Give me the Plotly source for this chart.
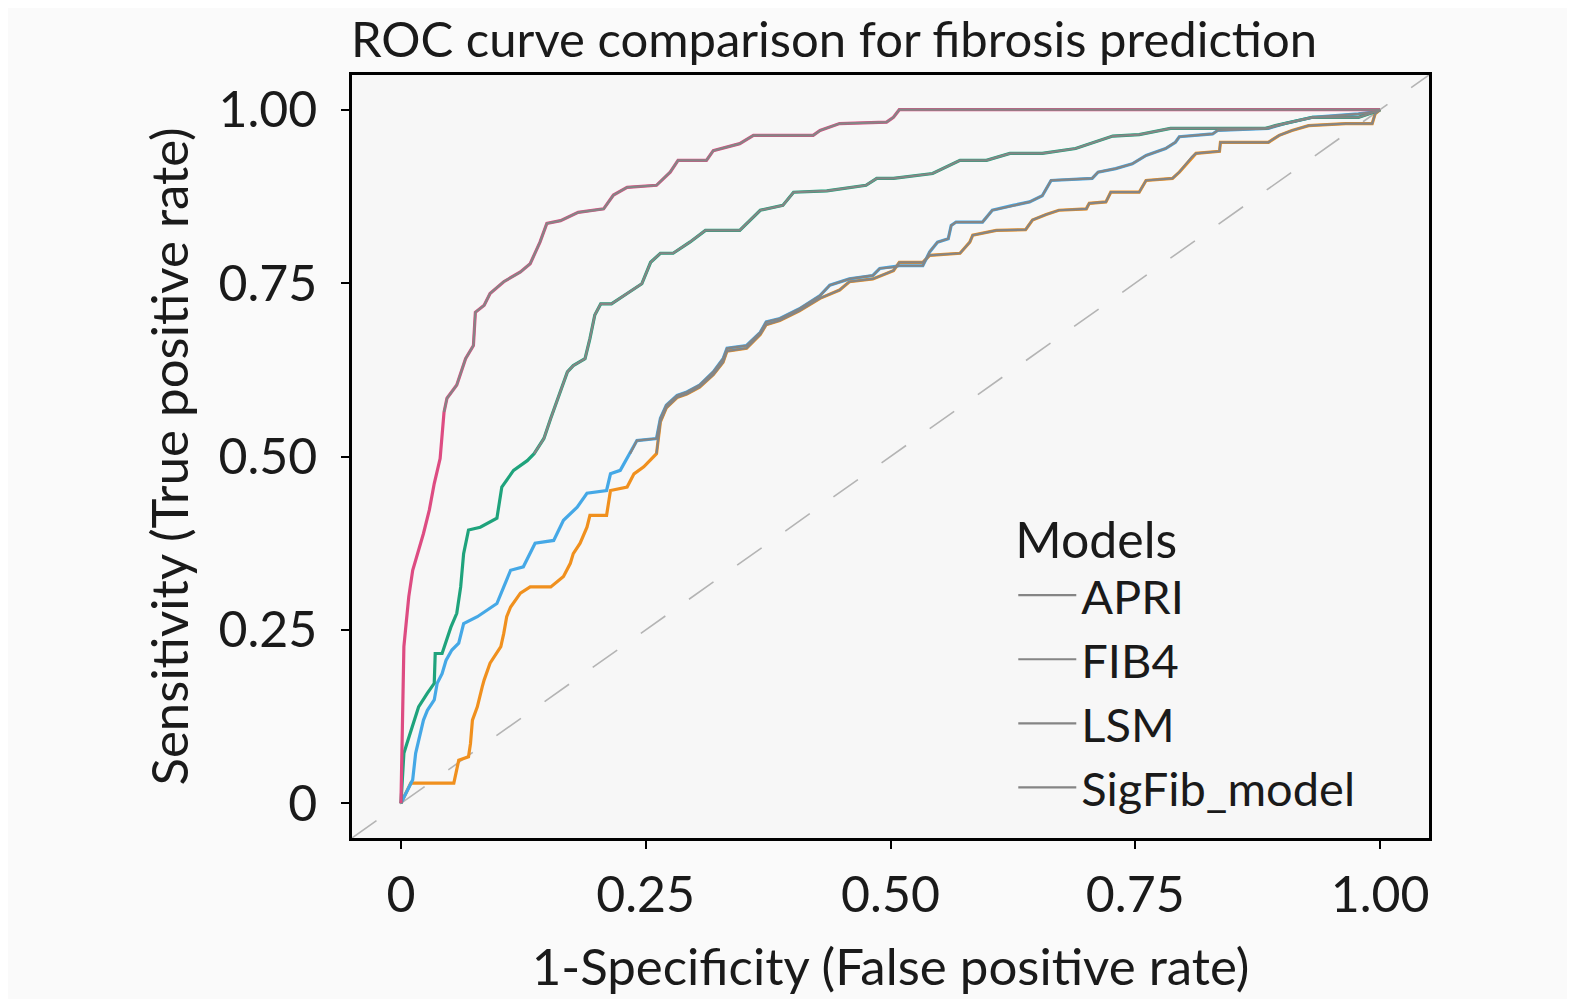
import plotly.graph_objects as go

# ROC points (false positive rate, true positive rate)
apri_fpr = [0, 0.010, 0.054, 0.059, 0.069, 0.071, 0.073, 0.078, 0.083, 0.085,
            0.091, 0.102, 0.105, 0.108, 0.112, 0.122, 0.132, 0.153, 0.166, 0.173,
            0.176, 0.183, 0.190, 0.193, 0.210, 0.214, 0.231, 0.238, 0.248, 0.261,
            0.265, 0.271, 0.282, 0.292, 0.305, 0.319, 0.329, 0.333, 0.353, 0.367,
            0.373, 0.387, 0.407, 0.428, 0.448, 0.458, 0.482, 0.503, 0.509, 0.533,
            0.540, 0.571, 0.581, 0.584, 0.608, 0.638, 0.645, 0.659, 0.672, 0.700,
            0.703, 0.720, 0.725, 0.754, 0.761, 0.788, 0.795, 0.808, 0.812, 0.836,
            0.837, 0.886, 0.897, 0.910, 0.927, 0.965, 0.992, 0.995, 1.0]
apri_tpr = [0, 0.029, 0.029, 0.062, 0.067, 0.086, 0.120, 0.139, 0.168, 0.178,
            0.202, 0.226, 0.245, 0.269, 0.283, 0.303, 0.312, 0.312, 0.327, 0.346,
            0.360, 0.375, 0.398, 0.415, 0.415, 0.451, 0.456, 0.475, 0.485, 0.504,
            0.550, 0.570, 0.585, 0.590, 0.600, 0.618, 0.636, 0.652, 0.656, 0.676,
            0.690, 0.696, 0.710, 0.728, 0.740, 0.752, 0.756, 0.768, 0.780, 0.780,
            0.790, 0.793, 0.809, 0.819, 0.826, 0.827, 0.841, 0.849, 0.855, 0.857,
            0.865, 0.867, 0.881, 0.881, 0.898, 0.901, 0.910, 0.932, 0.937, 0.940,
            0.953, 0.953, 0.963, 0.970, 0.977, 0.980, 0.980, 0.994, 1.0]

fib4_fpr = [0, 0.010, 0.012, 0.015, 0.023, 0.027, 0.034, 0.037, 0.042, 0.046,
            0.052, 0.059, 0.064, 0.078, 0.088, 0.098, 0.105, 0.112, 0.125, 0.137,
            0.156, 0.166, 0.180, 0.190, 0.210, 0.214, 0.224, 0.234, 0.241, 0.261,
            0.265, 0.271, 0.282, 0.292, 0.305, 0.319, 0.329, 0.333, 0.353, 0.367,
            0.373, 0.387, 0.407, 0.428, 0.438, 0.458, 0.482, 0.489, 0.503, 0.509,
            0.533, 0.540, 0.548, 0.559, 0.562, 0.567, 0.594, 0.604, 0.625, 0.642,
            0.655, 0.664, 0.706, 0.712, 0.730, 0.747, 0.761, 0.781, 0.791, 0.795,
            0.829, 0.834, 0.886, 0.903, 0.931, 0.978, 0.995, 1.0]
fib4_tpr = [0, 0.029, 0.034, 0.072, 0.120, 0.134, 0.149, 0.173, 0.187, 0.206,
            0.221, 0.231, 0.259, 0.269, 0.278, 0.288, 0.312, 0.336, 0.341, 0.375,
            0.379, 0.408, 0.427, 0.447, 0.451, 0.475, 0.480, 0.504, 0.523, 0.526,
            0.555, 0.574, 0.588, 0.593, 0.603, 0.622, 0.641, 0.656, 0.660, 0.679,
            0.694, 0.699, 0.713, 0.732, 0.747, 0.756, 0.761, 0.771, 0.773, 0.775,
            0.775, 0.795, 0.809, 0.814, 0.833, 0.838, 0.838, 0.855, 0.862, 0.867,
            0.876, 0.898, 0.901, 0.910, 0.915, 0.922, 0.934, 0.944, 0.953, 0.961,
            0.965, 0.970, 0.973, 0.980, 0.989, 0.994, 0.997, 1.0]

lsm_fpr = [0, 0.003, 0.006, 0.013, 0.018, 0.027, 0.034, 0.035, 0.042, 0.051,
           0.057, 0.061, 0.064, 0.069, 0.081, 0.098, 0.103, 0.115, 0.129, 0.136,
           0.146, 0.153, 0.163, 0.170, 0.176, 0.188, 0.193, 0.198, 0.204, 0.215,
           0.231, 0.246, 0.255, 0.265, 0.278, 0.295, 0.311, 0.346, 0.367, 0.390,
           0.401, 0.435, 0.475, 0.486, 0.503, 0.543, 0.571, 0.598, 0.622, 0.655,
           0.689, 0.727, 0.754, 0.786, 0.883, 0.893, 0.931, 0.978, 0.995, 1.0]
lsm_tpr = [0, 0.072, 0.086, 0.115, 0.139, 0.159, 0.173, 0.216, 0.216, 0.254,
           0.274, 0.312, 0.360, 0.394, 0.398, 0.411, 0.456, 0.480, 0.494, 0.504,
           0.526, 0.555, 0.593, 0.622, 0.631, 0.641, 0.670, 0.704, 0.720, 0.720,
           0.735, 0.749, 0.780, 0.793, 0.793, 0.809, 0.826, 0.826, 0.855, 0.862,
           0.881, 0.883, 0.891, 0.901, 0.901, 0.908, 0.927, 0.927, 0.937, 0.937,
           0.944, 0.962, 0.964, 0.973, 0.973, 0.977, 0.989, 0.989, 0.997, 1.0]

sigfib_fpr = [0, 0.003, 0.005, 0.008, 0.012, 0.017, 0.023, 0.029, 0.034, 0.040,
              0.044, 0.047, 0.057, 0.066, 0.074, 0.076, 0.085, 0.091, 0.105, 0.122,
              0.132, 0.142, 0.149, 0.163, 0.181, 0.207, 0.217, 0.231, 0.261, 0.275,
              0.283, 0.312, 0.319, 0.346, 0.360, 0.421, 0.428, 0.448, 0.496, 0.503,
              0.509, 1.0]
sigfib_tpr = [0, 0.226, 0.255, 0.298, 0.336, 0.360, 0.389, 0.423, 0.461, 0.497,
              0.564, 0.584, 0.603, 0.641, 0.660, 0.708, 0.718, 0.735, 0.752, 0.766,
              0.778, 0.809, 0.836, 0.840, 0.852, 0.857, 0.877, 0.888, 0.891, 0.910,
              0.927, 0.927, 0.941, 0.951, 0.963, 0.963, 0.970, 0.980, 0.982, 0.989,
              1.0, 1.0]

model_names = ["APRI", "FIB4", "LSM", "SigFib_model"]
model_colors = ["#F0901E", "#45A8E6", "#1FA37C", "#DD4C82"]
tick_vals = [0, 0.25, 0.5, 0.75, 1.0]
tick_text = ["0", "0.25", "0.50", "0.75", "1.00"]

curves = [(apri_fpr, apri_tpr), (fib4_fpr, fib4_tpr),
          (lsm_fpr, lsm_tpr), (sigfib_fpr, sigfib_tpr)]

FONT = "Lato, 'Open Sans', sans-serif"
INK = "#1a1a1a"

fig = go.Figure()

# coloured curves underneath
for name, col, (fx, ty) in zip(model_names, model_colors, curves):
    fig.add_trace(go.Scatter(x=fx, y=ty, mode="lines", name=name,
                             line=dict(color=col, width=3.2),
                             showlegend=False, hoverinfo="skip"))

# grey overlay on the upper part of each curve (also gives the grey legend keys)
for name, (fx, ty) in zip(model_names, curves):
    start = next(i for i, v in enumerate(ty) if v >= 0.5)
    fig.add_trace(go.Scatter(x=fx[start:], y=ty[start:], mode="lines", name=name,
                             line=dict(color="#858585", width=2.2)))

# chance diagonal across the whole panel
fig.add_shape(type="line", x0=-0.05, y0=-0.05, x1=1.05, y1=1.05,
              xref="x", yref="y", layer="below",
              line=dict(color="#B4B4B4", width=1.6, dash="30px,29px"))

axis_style = dict(range=[-0.05, 1.05], tickvals=tick_vals, ticktext=tick_text,
                  showgrid=False, zeroline=False, showline=True, mirror=True,
                  linecolor="black", linewidth=2.5, ticks="outside", ticklen=8,
                  tickwidth=2, tickcolor="black",
                  tickfont=dict(family=FONT, size=50, color=INK))

fig.update_layout(
    width=1575, height=999,
    margin=dict(l=344, r=154, t=67, b=169),
    paper_bgcolor="#FAFAFA", plot_bgcolor="#F7F7F7",
    title=dict(text="ROC curve comparison for fibrosis prediction",
               x=343 / 1575, xanchor="left", y=1 - 32 / 999, yanchor="middle",
               font=dict(family=FONT, size=49, color=INK)),
    xaxis=dict(axis_style, ticklabelstandoff=3,
               title=dict(text="1-Specificity (False positive rate)", standoff=28,
                          font=dict(family=FONT, size=51, color=INK))),
    yaxis=dict(axis_style, ticklabelstandoff=14,
               title=dict(text="Sensitivity (True positive rate)", standoff=14,
                          font=dict(family=FONT, size=51, color=INK))),
    legend=dict(x=0.614, y=0.452, xanchor="left", yanchor="top",
                bgcolor="rgba(0,0,0,0)", itemwidth=58,
                title=dict(text="Models", font=dict(family=FONT, size=50, color=INK)),
                font=dict(family=FONT, size=47, color=INK)),
)

fig.write_html("out.html")
